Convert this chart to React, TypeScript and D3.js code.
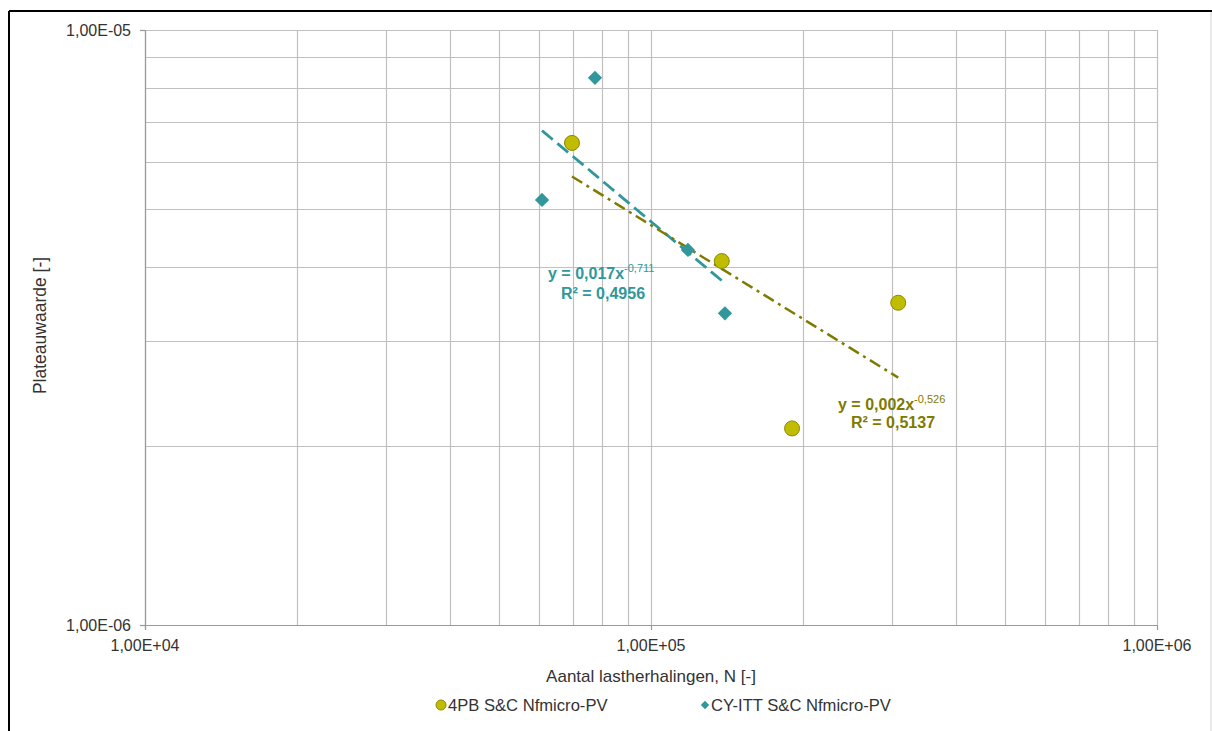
import React from "react";
import * as d3 from "d3";

const seriesA_name = "4PB S&C Nfmicro-PV";
const seriesA_x = [69800, 138000, 190000, 308000];
const seriesA_y = [6.46e-6, 4.09e-6, 2.14e-6, 3.48e-6];

const seriesB_name = "CY-ITT S&C Nfmicro-PV";
const seriesB_x = [77500, 60900, 118300, 140000];
const seriesB_y = [8.31e-6, 5.18e-6, 4.27e-6, 3.34e-6];

const eqA = ["y = 0,002x", "-0,526", "R² = 0,5137"];
const eqB = ["y = 0,017x", "-0,711", "R² = 0,4956"];

const xTickLabels = ["1,00E+04", "1,00E+05", "1,00E+06"];
const xTickValues = [1e4, 1e5, 1e6];
const yTickLabels = ["1,00E-06", "1,00E-05"];
const yTickValues = [1e-6, 1e-5];

const W = 1212;
const H = 731;
const L = 145, R = 1157, T = 30, B = 625;

const colA = "#C0BC00";
const colAStroke = "#8C8A00";
const colALine = "#7F7A00";
const colB = "#31979B";

function powerFit(xs: number[], ys: number[]) {
  const lx = xs.map(Math.log);
  const ly = ys.map(Math.log);
  const n = xs.length;
  const mx = d3.mean(lx)!;
  const my = d3.mean(ly)!;
  let sxy = 0, sxx = 0;
  for (let i = 0; i < n; i++) {
    sxy += (lx[i] - mx) * (ly[i] - my);
    sxx += (lx[i] - mx) ** 2;
  }
  const b = sxy / sxx;
  const a = Math.exp(my - b * mx);
  return { a, b };
}

export default function App() {
  const x = d3.scaleLog().domain([1e4, 1e6]).range([L, R]);
  const y = d3.scaleLog().domain([1e-6, 1e-5]).range([B, T]);

  const xGrid: number[] = [];
  for (let d = 1e4; d < 1e6; d *= 10) for (let k = 1; k <= 9; k++) xGrid.push(d * k);
  xGrid.push(1e6);
  const yGrid: number[] = [];
  for (let k = 1; k <= 10; k++) yGrid.push(1e-6 * k);

  const fitA = powerFit(seriesA_x, seriesA_y);
  const fitB = powerFit(seriesB_x, seriesB_y);
  const trend = (xs: number[], f: { a: number; b: number }) => {
    const [x0, x1] = d3.extent(xs) as [number, number];
    const pts = d3.range(0, 21).map((i) => {
      const xv = x0 * Math.pow(x1 / x0, i / 20);
      return [x(xv), y(f.a * Math.pow(xv, f.b))] as [number, number];
    });
    return d3.line()(pts) as string;
  };

  const font = "'Liberation Sans', Arial, sans-serif";
  const diamond = d3.symbol().type(d3.symbolDiamond2).size(130)();
  const fs = 16;
  const txt = "#333";

  return (
    <svg width={W} height={H} style={{ position: "absolute", left: 0, top: 0 }} fontFamily={font}>
      <rect x={0} y={0} width={W} height={H} fill="#fff" />
      {/* frame */}
      <line x1={9} y1={11} x2={W} y2={11} stroke="#000" strokeWidth={2} />
      <line x1={9} y1={11} x2={9} y2={H} stroke="#000" strokeWidth={2} />
      <line x1={1211} y1={12} x2={1211} y2={H} stroke="#d0d0d0" strokeWidth={1} />

      {/* grid */}
      {xGrid.map((v, i) => (
        <line key={"gx" + i} x1={Math.round(x(v)) + 0.5} x2={Math.round(x(v)) + 0.5} y1={T} y2={B} stroke="#c0c0c0" strokeWidth={1.2} />
      ))}
      {yGrid.map((v, i) => (
        <line key={"gy" + i} x1={L} x2={R} y1={Math.round(y(v)) + 0.5} y2={Math.round(y(v)) + 0.5} stroke="#c0c0c0" strokeWidth={1.2} />
      ))}
      {/* axes */}
      <line x1={L + 0.5} x2={L + 0.5} y1={T} y2={B + 5} stroke="#999" strokeWidth={1.2} />
      <line x1={L - 5} x2={R} y1={B + 0.5} y2={B + 0.5} stroke="#999" strokeWidth={1.2} />
      {yTickValues.map((v, i) => (
        <line key={"yt" + i} x1={L - 5} x2={L} y1={y(v) + 0.5} y2={y(v) + 0.5} stroke="#999" strokeWidth={1.2} />
      ))}
      {xTickValues.map((v, i) => (
        <line key={"xt" + i} x1={x(v) + 0.5} x2={x(v) + 0.5} y1={B} y2={B + 5} stroke="#999" strokeWidth={1.2} />
      ))}

      {/* tick labels */}
      {yTickValues.map((v, i) => (
        <text key={"yl" + i} x={L - 14} y={y(v)} dy="0.35em" textAnchor="end" fontSize={fs} fill={txt}>
          {yTickLabels[i]}
        </text>
      ))}
      {xTickValues.map((v, i) => (
        <text key={"xl" + i} x={x(v)} y={B + 20} dy="0.35em" textAnchor="middle" fontSize={fs} fill={txt}>
          {xTickLabels[i]}
        </text>
      ))}

      {/* axis titles */}
      <text x={(L + R) / 2} y={676} dy="0.35em" textAnchor="middle" fontSize={17} fill={txt}>
        Aantal lastherhalingen, N [-]
      </text>
      <text transform={`translate(40,${(T + B) / 2 - 2}) rotate(-90)`} dy="0.35em" textAnchor="middle" fontSize={17.5} fill={txt}>
        Plateauwaarde [-]
      </text>

      {/* trendlines */}
      <path d={trend(seriesB_x, fitB)} fill="none" stroke={colB} strokeWidth={2.8} strokeDasharray="14,6" />
      <path d={trend(seriesA_x, fitA)} fill="none" stroke={colALine} strokeWidth={2.5} strokeDasharray="12,5,3,5" />

      {/* markers */}
      {seriesB_x.map((v, i) => (
        <path key={"b" + i} d={diamond} transform={`translate(${x(v)},${y(seriesB_y[i])})`} fill={colB} />
      ))}
      {seriesA_x.map((v, i) => (
        <circle key={"a" + i} cx={x(v)} cy={y(seriesA_y[i])} r={7.5} fill={colA} stroke={colAStroke} strokeWidth={1} />
      ))}

      {/* equation labels */}
      <text x={548} y={279} fontSize={fs} fontWeight="bold" fill={colB}>
        {eqB[0]}
        <tspan dy={-7} fontSize={11} fontWeight="normal">{eqB[1]}</tspan>
      </text>
      <text x={603} y={299} textAnchor="middle" fontSize={fs} fontWeight="bold" fill={colB}>
        {eqB[2]}
      </text>
      <text x={838} y={410} fontSize={fs} fontWeight="bold" fill={colALine}>
        {eqA[0]}
        <tspan dy={-7} fontSize={11} fontWeight="normal">{eqA[1]}</tspan>
      </text>
      <text x={893} y={428} textAnchor="middle" fontSize={fs} fontWeight="bold" fill={colALine}>
        {eqA[2]}
      </text>

      {/* legend */}
      <circle cx={441} cy={705} r={5} fill={colA} stroke={colAStroke} strokeWidth={1} />
      <text x={448} y={705} dy="0.35em" fontSize={16.6} fill={txt}>{seriesA_name}</text>
      <path d={d3.symbol().type(d3.symbolDiamond2).size(45)()!} transform="translate(705,705)" fill={colB} />
      <text x={711} y={705} dy="0.35em" fontSize={16.6} fill={txt}>{seriesB_name}</text>
    </svg>
  );
}
